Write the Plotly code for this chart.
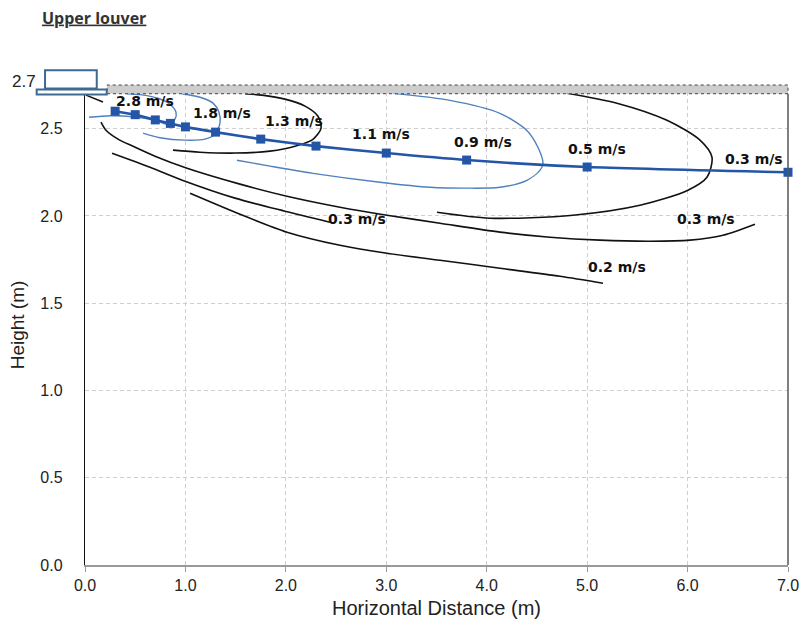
import plotly.graph_objects as go

# ---------------- data ----------------
X_RANGE = [0, 7]
Y_RANGE = [0, 2.75]
x_ticks = [0, 1, 2, 3, 4, 5, 6, 7]
y_ticks = [0, 0.5, 1.0, 1.5, 2.0, 2.5]

# jet centreline trajectory
traj_x = [0.3, 0.5, 0.7, 0.85, 1.0, 1.3, 1.75, 2.3, 3.0, 3.8, 5.0, 7.0]
traj_y = [2.60, 2.58, 2.55, 2.53, 2.51, 2.48, 2.44, 2.40, 2.36, 2.32, 2.28, 2.25]

# velocity contours (blue = thin steel blue, black)
c28_x = [0.040, 0.249, 0.478, 0.697, 0.826, 0.896, 0.906, 0.846, 0.727, 0.548, 0.418]
c28_y = [2.565, 2.574, 2.568, 2.548, 2.525, 2.554, 2.594, 2.640, 2.674, 2.695, 2.700]

c18_x = [0.578, 0.747, 0.996, 1.195, 1.294, 1.344, 1.334, 1.275, 1.145, 0.966]
c18_y = [2.474, 2.448, 2.434, 2.440, 2.468, 2.531, 2.594, 2.646, 2.680, 2.700]

c13_x = [0.876, 1.145, 1.494, 1.842, 2.091, 2.270, 2.350, 2.320, 2.191, 1.991, 1.762, 1.593]
c13_y = [2.377, 2.365, 2.360, 2.371, 2.399, 2.439, 2.502, 2.571, 2.629, 2.669, 2.692, 2.700]

c09_x = [1.513, 1.842, 2.270, 2.937, 3.435, 3.803, 4.131, 4.400, 4.530, 4.560, 4.510, 4.400, 4.131, 3.634, 3.066]
c09_y = [2.319, 2.285, 2.244, 2.193, 2.164, 2.159, 2.164, 2.204, 2.261, 2.302, 2.393, 2.490, 2.588, 2.662, 2.702]

c05_x = [3.505, 4.033, 4.859, 5.526, 6.004, 6.193, 6.243, 6.124, 5.795, 5.297, 4.799]
c05_y = [2.021, 1.987, 2.004, 2.061, 2.147, 2.221, 2.336, 2.434, 2.548, 2.646, 2.703]

c03a_x = [0.159, 0.209, 0.329, 0.478, 0.697, 1.016, 1.543, 2.011, 2.539, 3.007, 3.535,
          4.132, 4.630, 5.128, 5.626, 6.024, 6.353, 6.671]
c03a_y = [2.537, 2.491, 2.440, 2.399, 2.342, 2.273, 2.182, 2.113, 2.050, 2.004, 1.958,
          1.907, 1.878, 1.861, 1.855, 1.861, 1.889, 1.952]

c03b_x = [0.269, 0.647, 0.996, 1.494, 1.991, 2.439]
c03b_y = [2.359, 2.279, 2.199, 2.102, 2.027, 1.964]

c02_x = [1.046, 1.543, 2.011, 2.539, 3.007, 3.535, 4.132, 4.730, 5.158]
c02_y = [2.130, 2.010, 1.907, 1.832, 1.786, 1.746, 1.700, 1.654, 1.614]

cshort_x = [0.01, 0.179]
cshort_y = [2.692, 2.652]

# velocity labels
lab_text = ["2.8 m/s", "1.8 m/s", "1.3 m/s", "1.1 m/s", "0.9 m/s", "0.5 m/s",
            "0.3 m/s", "0.3 m/s", "0.3 m/s", "0.2 m/s"]
lab_x = [0.597, 1.364, 2.080, 2.947, 3.962, 5.097, 6.660, 2.708, 6.182, 5.296]
lab_y = [2.650, 2.582, 2.536, 2.459, 2.413, 2.377, 2.320, 1.975, 1.975, 1.700]

# ceiling band & louver (data units)
ceil_x = [0.219, 7.0]
ceil_y = [2.70, 2.75]
louver_box_x = [-0.398, 0.117]
louver_box_y = [2.730, 2.835]
louver_plate_x = [-0.481, 0.216]
louver_plate_y = [2.696, 2.724]
louver_label = "2.7"
louver_label_x = -0.612
louver_label_y = 2.772

# ---------------- figure ----------------
BLACK = "#111111"
STEEL = "#4f81bd"
TRAJ = "#2456a8"

fig = go.Figure()

def contour(x, y, color, width):
    fig.add_trace(go.Scatter(x=x, y=y, mode="lines",
                             line=dict(color=color, width=width, shape="spline", smoothing=0.8),
                             hoverinfo="skip", showlegend=False))

contour(cshort_x, cshort_y, BLACK, 1.6)
contour(c03a_x, c03a_y, BLACK, 1.6)
contour(c03b_x, c03b_y, BLACK, 1.6)
contour(c02_x, c02_y, BLACK, 1.6)
contour(c05_x, c05_y, BLACK, 1.6)
contour(c13_x, c13_y, BLACK, 1.6)
contour(c28_x, c28_y, STEEL, 1.4)
contour(c18_x, c18_y, STEEL, 1.4)
contour(c09_x, c09_y, STEEL, 1.4)

fig.add_trace(go.Scatter(x=traj_x, y=traj_y, mode="lines+markers",
                         line=dict(color=TRAJ, width=2.6, shape="spline", smoothing=0.6),
                         marker=dict(symbol="square", size=9, color=TRAJ),
                         cliponaxis=False, showlegend=False))

fig.add_trace(go.Scatter(x=lab_x, y=lab_y, mode="text", text=lab_text,
                         textposition="middle center",
                         textfont=dict(family="DejaVu Sans", size=14, color=BLACK, weight="bold"),
                         cliponaxis=False, showlegend=False, hoverinfo="skip"))

def px(x):
    return (x - X_RANGE[0]) / (X_RANGE[1] - X_RANGE[0])

def py(y):
    return (y - Y_RANGE[0]) / (Y_RANGE[1] - Y_RANGE[0])

shapes = [
    # ceiling band
    dict(type="rect", xref="paper", yref="paper",
         x0=px(ceil_x[0]), x1=px(ceil_x[1]), y0=py(ceil_y[0]), y1=py(ceil_y[1]),
         fillcolor="#cdcdcd", line=dict(color="#444444", width=1, dash="dot"), layer="above"),
    # right border
    dict(type="line", xref="paper", yref="paper", x0=1, x1=1, y0=0, y1=py(ceil_y[0]),
         line=dict(color="#555555", width=1.5), layer="above"),
    # louver box
    dict(type="rect", xref="paper", yref="paper",
         x0=px(louver_box_x[0]), x1=px(louver_box_x[1]),
         y0=py(louver_box_y[0]), y1=py(louver_box_y[1]),
         fillcolor="white", line=dict(color="#3d6a93", width=2), layer="above"),
    # louver plate
    dict(type="rect", xref="paper", yref="paper",
         x0=px(louver_plate_x[0]), x1=px(louver_plate_x[1]),
         y0=py(louver_plate_y[0]), y1=py(louver_plate_y[1]),
         fillcolor="white", line=dict(color="#3d6a93", width=2), layer="above"),
]

annotations = [
    dict(text=louver_label, x=px(louver_label_x), y=py(louver_label_y),
         xref="paper", yref="paper", showarrow=False,
         font=dict(family="Liberation Sans", size=17, color="#222222"),
         xanchor="center", yanchor="middle"),
]

fig.update_layout(
    width=801, height=624,
    margin=dict(l=85, r=13, t=85, b=59, autoexpand=False),
    paper_bgcolor="white", plot_bgcolor="white",
    showlegend=False,
    hovermode=False,
    title=dict(text="<b><u>Upper louver</u></b>", x=42 / 801, xanchor="left",
               xref="container", y=1 - 18 / 624, yanchor="middle", yref="container",
               font=dict(family="Open Sans", size=16, color="#333333")),
    shapes=shapes,
    annotations=annotations,
    xaxis=dict(range=X_RANGE, tickvals=x_ticks, tickformat=".1f", automargin=False,
               showgrid=True, gridcolor="#cfcfcf", griddash="4px,3px", gridwidth=1,
               zeroline=False, showline=True, linecolor="#999999", linewidth=2,
               ticks="outside", ticklen=5, tickcolor="#999999",
               tickfont=dict(family="Liberation Sans", size=16, color="#222222"),
               title=dict(text="Horizontal Distance (m)", standoff=8,
                          font=dict(family="Liberation Sans", size=20, color="#222222"))),
    yaxis=dict(range=Y_RANGE, tickvals=y_ticks, tickformat=".1f", automargin=False,
               showgrid=True, gridcolor="#cfcfcf", griddash="4px,3px", gridwidth=1,
               zeroline=False, showline=True, linecolor="#111111", linewidth=1.2,
               ticks="", ticklabelstandoff=18,
               tickfont=dict(family="Liberation Sans", size=16, color="#222222"),
               title=dict(text="Height (m)", standoff=10,
                          font=dict(family="Liberation Sans", size=19, color="#222222"))),
)

fig.write_html("out.html",
               config={"displayModeBar": False, "staticPlot": True},
               post_script="document.body.style.margin='0';document.body.style.overflow='hidden';")
